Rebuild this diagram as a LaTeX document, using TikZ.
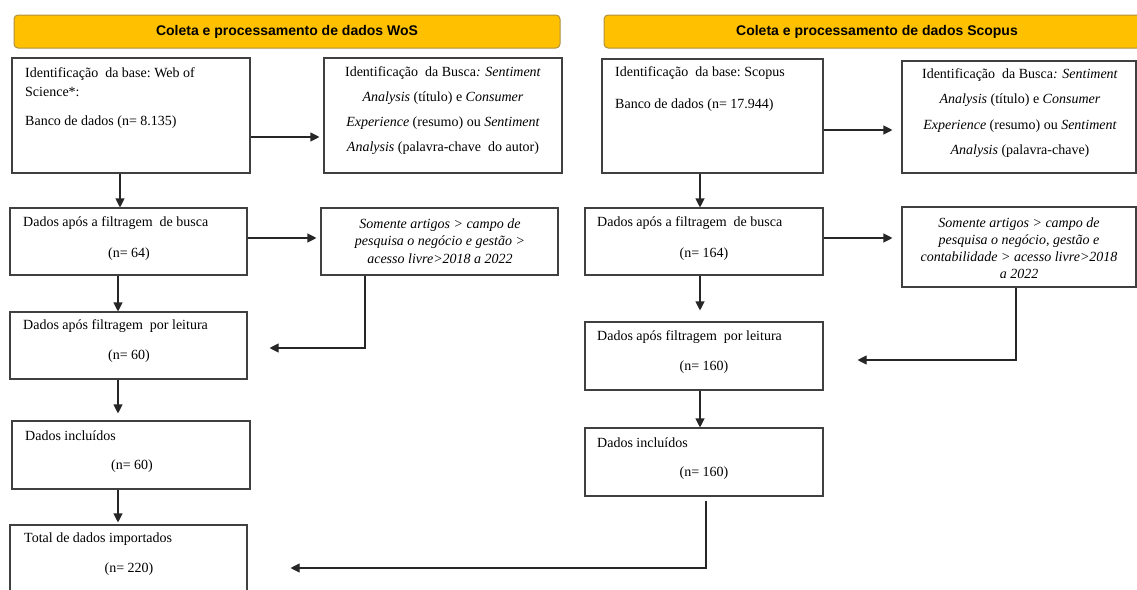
\documentclass[tikz,border=0pt]{standalone}
\usepackage{fontspec}
\setmainfont{Liberation Serif}
\newfontfamily\headfont{Liberation Sans}
\usetikzlibrary{arrows.meta}
\definecolor{headfill}{HTML}{FFC000}
\definecolor{headline}{HTML}{B09040}
\definecolor{boxline}{HTML}{404040}
\tikzset{
  box/.style={draw=boxline, line width=1.1pt, inner sep=0pt},
  head/.style={draw=headline, fill=headfill, line width=1pt, rounded corners=4pt,
    font=\headfont\bfseries\fontsize{14}{16}\selectfont},
  arr/.style={-{Triangle[length=9pt,width=9pt]}, line width=1.1pt, draw=black!85},
  txt/.style={anchor=west, inner sep=0pt, align=left, font=\fontsize{14}{19}\selectfont},
  mid/.style={inner sep=0pt, align=center, font=\fontsize{14}{17}\selectfont},
}
\begin{document}
\begin{tikzpicture}[x=1pt,y=-1pt]
    \useasboundingbox (0,0) rectangle (1137,589);

    % Headers
    \node[head, minimum width=546pt, minimum height=33pt] (wosHead) at (287,31.5) {Coleta e processamento de dados WoS};
    \node[head, minimum width=546pt, minimum height=33pt] (scoHead) at (877,31.5) {Coleta e processamento de dados Scopus};

    % WoS boxes
    \node[box, minimum width=238pt, minimum height=115pt] (wosBase) at (131,115.5) {};
    \node[box, minimum width=238pt, minimum height=115pt] (wosBusca) at (443,115.5) {};
    \node[box, minimum width=237pt, minimum height=67pt] (wosFiltro) at (128.5,241.5) {};
    \node[box, minimum width=237pt, minimum height=67pt] (wosCrit) at (439.5,241.5) {};
    \node[box, minimum width=237pt, minimum height=67pt] (wosLeitura) at (128.5,345.5) {};
    \node[box, minimum width=238pt, minimum height=68pt] (wosIncl) at (131,455) {};
    \node[box, minimum width=237pt, minimum height=67pt] (wosTotal) at (128.5,558.5) {};

    % WoS texts
    \node[txt] (wosBaseT) at (25,82.5) {Identificação\ \ da base:\ Web of\\Science*:};
    \node[txt] (wosBaseN) at (25,122) {Banco de dados (n= 8.135)};
    \node[mid, font=\fontsize{14}{25}\selectfont] (wosBuscaT) at (443,111)
      {Identificação\ \ da Busca\textit{: Sentiment}\\\textit{Analysis} (título) e \textit{Consumer}\\
       \textit{Experience} (resumo) ou \textit{Sentiment}\\\textit{Analysis} (palavra-chave\ \ do autor)};
    \node[txt] (wosFiltroT) at (23,223) {Dados após a filtragem\ \ de busca};
    \node[mid] (wosFiltroN) at (129,254) {(n= 64)};
    \node[mid, font=\itshape\fontsize{14}{17.5}\selectfont] (wosCritT) at (440,241)
      {Somente artigos > campo de\\pesquisa o negócio e gestão >\\acesso livre>2018 a 2022};
    \node[txt] (wosLeituraT) at (23,326) {Dados após filtragem\ \ por leitura};
    \node[mid] (wosLeituraN) at (129,356) {(n= 60)};
    \node[txt] (wosInclT) at (25,436) {Dados incluídos};
    \node[mid] (wosInclN) at (132,466) {(n= 60)};
    \node[txt] (wosTotalT) at (24,539) {Total de dados importados};
    \node[mid] (wosTotalN) at (129,569) {(n= 220)};

    % Scopus boxes
    \node[box, minimum width=221pt, minimum height=114pt] (scoBase) at (712.5,116) {};
    \node[box, minimum width=234pt, minimum height=112pt] (scoBusca) at (1019,117) {};
    \node[box, minimum width=238pt, minimum height=67pt] (scoFiltro) at (704,241.5) {};
    \node[box, minimum width=234pt, minimum height=80pt] (scoCrit) at (1019,247) {};
    \node[box, minimum width=238pt, minimum height=68pt] (scoLeitura) at (704,356) {};
    \node[box, minimum width=238pt, minimum height=68pt] (scoIncl) at (704,462) {};

    % Scopus texts
    \node[txt] (scoBaseT) at (615,73) {Identificação\ \ da base:\ Scopus};
    \node[txt] (scoBaseN) at (615,105) {Banco de dados (n= 17.944)};
    \node[mid, font=\fontsize{14}{25.3}\selectfont] (scoBuscaT) at (1020,113)
      {Identificação\ \ da Busca\textit{: Sentiment}\\\textit{Analysis} (título) e \textit{Consumer}\\
       \textit{Experience} (resumo) ou \textit{Sentiment}\\\textit{Analysis} (palavra-chave)};
    \node[txt] (scoFiltroT) at (597,223) {Dados após a filtragem\ \ de busca};
    \node[mid] (scoFiltroN) at (704,254) {(n= 164)};
    \node[mid, font=\itshape\fontsize{14}{17}\selectfont] (scoCritT) at (1019,248.5)
      {Somente artigos > campo de\\pesquisa o negócio, gestão e\\contabilidade > acesso livre>2018\\a 2022};
    \node[txt] (scoLeituraT) at (597,337) {Dados após filtragem\ \ por leitura};
    \node[mid] (scoLeituraN) at (704,367) {(n= 160)};
    \node[txt] (scoInclT) at (597,443) {Dados incluídos};
    \node[mid] (scoInclN) at (704,473) {(n= 160)};

    % WoS connectors
    \draw[arr, shorten >=4pt] (wosBase.east |- 0,137) -- (wosBusca.west |- 0,137);
    \draw[arr] (wosBase.south -| 120,0) -- (wosFiltro.north -| 120,0);
    \draw[arr, shorten >=4pt] (wosFiltro.east |- 0,238) -- (wosCrit.west |- 0,238);
    \draw[arr] (wosFiltro.south -| 118,0) -- (wosLeitura.north -| 118,0);
    \draw[arr, shorten >=22pt] (wosCrit.south -| 365,0) |- (wosLeitura.east |- 0,348);
    \draw[arr, shorten >=7pt] (wosLeitura.south -| 118,0) -- (wosIncl.north -| 118,0);
    \draw[arr, shorten >=2pt] (wosIncl.south -| 118,0) -- (wosTotal.north -| 118,0);

    % Scopus connectors
    \draw[arr, shorten >=9pt] (scoBase.east |- 0,130) -- (scoBusca.west |- 0,130);
    \draw[arr] (scoBase.south -| 700,0) -- (scoFiltro.north -| 700,0);
    \draw[arr, shorten >=9pt] (scoFiltro.east |- 0,238) -- (scoCrit.west |- 0,238);
    \draw[arr, shorten >=11pt] (scoFiltro.south -| 700,0) -- (scoLeitura.north -| 700,0);
    \draw[arr, shorten >=34pt] (scoCrit.south -| 1016,0) |- (scoLeitura.east |- 0,360);
    \draw[arr] (scoLeitura.south -| 700,0) -- (scoIncl.north -| 700,0);

    % Scopus total into WoS total
    \draw[arr, shorten <=4pt, shorten >=43pt] (scoIncl.south -| 706,0) |- (wosTotal.east |- 0,568);
\end{tikzpicture}
\end{document}
